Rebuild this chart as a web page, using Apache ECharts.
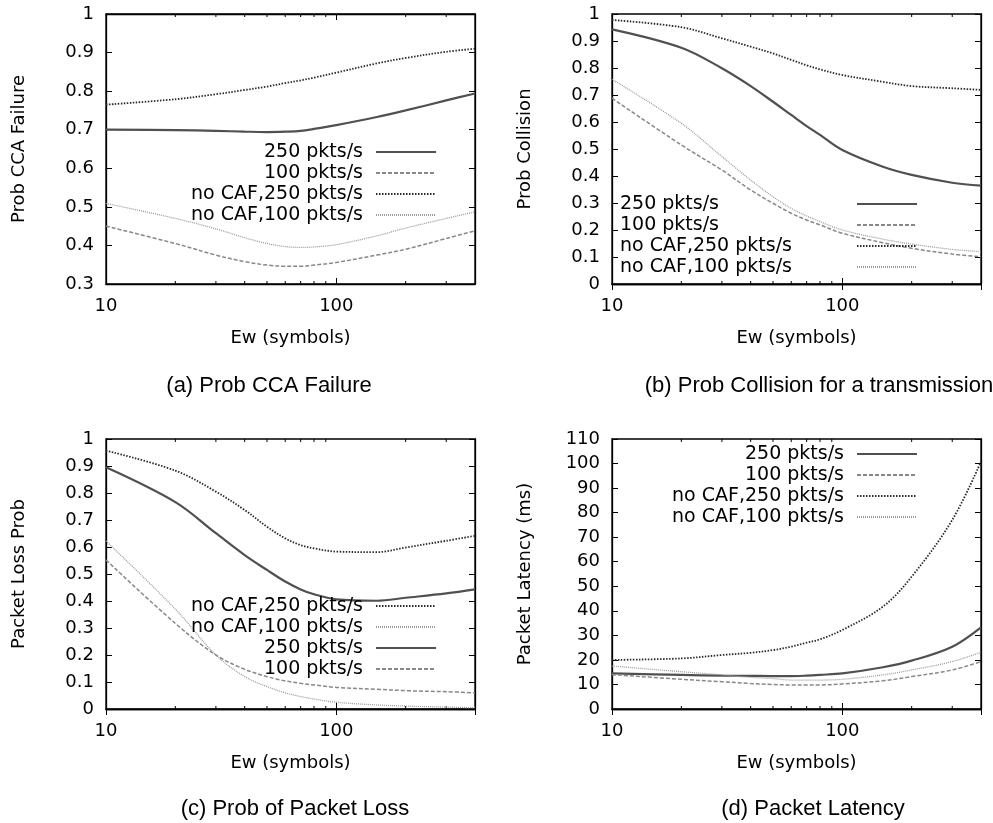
<!DOCTYPE html>
<html>
<head>
<meta charset="utf-8">
<script src="https://cdn.jsdelivr.net/npm/echarts@6/dist/echarts.min.js"></script>
<style>html,body{margin:0;background:#fff}#main{width:993px;height:823px}</style>
</head>
<body>
<div id="main"></div>
<script>
// Ew (symbols) sample points
const ew = [10, 20, 30, 40, 50, 60, 70, 80, 100, 150, 200, 300, 400];
const minorTicks = [20, 30, 40, 50, 60, 70, 80, 90, 200, 300];
const names = ['250 pkts/s', '100 pkts/s', 'no CAF,250 pkts/s', 'no CAF,100 pkts/s'];

// (a) Prob CCA Failure
const cca250 = [0.700, 0.699, 0.697, 0.695, 0.694, 0.695, 0.697, 0.702, 0.712, 0.733, 0.750, 0.776, 0.794];
const cca100 = [0.450, 0.405, 0.375, 0.358, 0.349, 0.346, 0.346, 0.349, 0.356, 0.375, 0.390, 0.418, 0.438];
const ccaNo250 = [0.765, 0.779, 0.792, 0.803, 0.812, 0.821, 0.828, 0.835, 0.848, 0.872, 0.886, 0.902, 0.910];
const ccaNo100 = [0.509, 0.470, 0.443, 0.420, 0.405, 0.397, 0.395, 0.396, 0.402, 0.425, 0.445, 0.470, 0.487];

// (b) Prob Collision
const col250 = [0.943, 0.875, 0.799, 0.733, 0.675, 0.626, 0.585, 0.552, 0.496, 0.434, 0.404, 0.375, 0.364];
const col100 = [0.688, 0.515, 0.422, 0.348, 0.299, 0.262, 0.237, 0.219, 0.188, 0.153, 0.132, 0.111, 0.101];
const colNo250 = [0.978, 0.951, 0.910, 0.879, 0.854, 0.830, 0.810, 0.795, 0.774, 0.749, 0.733, 0.725, 0.719];
const colNo100 = [0.758, 0.595, 0.472, 0.385, 0.323, 0.280, 0.252, 0.231, 0.200, 0.166, 0.148, 0.128, 0.120];

// (c) Packet Loss Prob
const loss250 = [0.895, 0.766, 0.651, 0.570, 0.515, 0.472, 0.443, 0.425, 0.406, 0.401, 0.412, 0.428, 0.443];
const loss100 = [0.552, 0.317, 0.200, 0.147, 0.120, 0.104, 0.095, 0.089, 0.080, 0.073, 0.068, 0.064, 0.060];
const lossNo250 = [0.957, 0.883, 0.805, 0.737, 0.675, 0.632, 0.607, 0.595, 0.583, 0.581, 0.598, 0.623, 0.641];
const lossNo100 = [0.622, 0.370, 0.200, 0.120, 0.083, 0.060, 0.046, 0.037, 0.025, 0.015, 0.011, 0.007, 0.005];

// (d) Packet Latency (ms)
const lat250 = [14.5, 13.9, 13.6, 13.5, 13.4, 13.4, 13.6, 13.9, 14.5, 17.0, 19.7, 25.4, 33.3];
const lat100 = [14.0, 12.1, 11.1, 10.4, 10.0, 9.8, 9.8, 9.8, 10.2, 11.5, 13.2, 15.9, 19.3];
const latNo250 = [20.0, 20.6, 22.0, 22.9, 24.0, 25.4, 27.0, 28.4, 32.2, 41.7, 53.9, 77.0, 100.8];
const latNo100 = [17.5, 15.2, 13.9, 12.9, 12.4, 11.8, 11.8, 11.8, 12.1, 13.9, 15.9, 19.3, 23.1];

const font = 'DejaVu Sans';
const capFont = 'Liberation Sans';
const lineStyles = [
  {color: '#505050', width: 2.2, type: 'solid'},
  {color: '#888888', width: 1.5, type: [4, 2]},
  {color: '#2a2a2a', width: 1.8, type: [1.5, 1.5]},
  {color: '#9c9c9c', width: 1.3, type: [1, 1]}
];

const panels = [
  {left: 106, top: 14, yMin: 0.3, yMax: 1, yInt: 0.1, yName: 'Prob CCA Failure', caption: '(a) Prob CCA Failure', capX: 264, capY: 370,
   data: [cca250, cca100, ccaNo250, ccaNo100], order: names, legendRight: 556, legendTop: 142, leftText: false},
  {left: 612, top: 14, yMin: 0, yMax: 1, yInt: 0.1, yName: 'Prob Collision', caption: '(b) Prob Collision for a transmission', capX: 814, capY: 370,
   data: [col250, col100, colNo250, colNo100], order: names, legendRight: 75, legendTop: 194, leftText: true},
  {left: 106, top: 439, yMin: 0, yMax: 1, yInt: 0.1, yName: 'Packet Loss Prob', caption: '(c) Prob of Packet Loss', capX: 290, capY: 793,
   data: [loss250, loss100, lossNo250, lossNo100], order: [names[2], names[3], names[0], names[1]], legendRight: 556, legendTop: 596, leftText: false},
  {left: 612, top: 439, yMin: 0, yMax: 110, yInt: 10, yName: 'Packet Latency (ms)', caption: '(d) Packet Latency', capX: 808, capY: 793,
   data: [lat250, lat100, latNo250, latNo100], order: names, legendRight: 75, legendTop: 444, leftText: false}
];

const grid = [], xAxis = [], yAxis = [], series = [], legend = [], title = [];
const axisTxt = {fontFamily: font, fontSize: 18, color: '#000'};

panels.forEach(function (p, i) {
  grid.push({left: p.left, top: p.top, width: 369, height: 270, show: true, borderColor: '#000', borderWidth: 1.3, backgroundColor: 'transparent'});
  const xBase = {gridIndex: i, type: 'log', logBase: 10, min: 10, max: 400,
    axisLine: {show: true, lineStyle: {color: '#000', width: 1.3}},
    axisTick: {inside: true, length: 6, lineStyle: {color: '#000'}},
    splitLine: {show: false}};
  xAxis.push(Object.assign({}, xBase, {position: 'bottom',
    name: 'Ew (symbols)', nameLocation: 'middle', nameGap: 45, nameTextStyle: axisTxt,
    axisLabel: Object.assign({margin: 13, showMaxLabel: false, formatter: function (v) {
      const r = Math.round(v); return (r === 10 || r === 100) ? String(r) : '';
    }}, axisTxt)}));
  xAxis.push(Object.assign({}, xBase, {position: 'top', axisLabel: {show: false}}));
  const yBase = {gridIndex: i, type: 'value', min: p.yMin, max: p.yMax, interval: p.yInt,
    axisLine: {show: true, lineStyle: {color: '#000', width: 1.3}},
    axisTick: {inside: true, length: 6, lineStyle: {color: '#000'}},
    splitLine: {show: false}};
  yAxis.push(Object.assign({}, yBase, {position: 'left',
    name: p.yName, nameLocation: 'middle', nameRotate: 90, nameGap: 78, nameTextStyle: axisTxt,
    axisLabel: Object.assign({margin: 12}, axisTxt)}));
  yAxis.push(Object.assign({}, yBase, {position: 'right', axisLabel: {show: false}}));

  p.data.forEach(function (vals, k) {
    series.push({
      name: names[k], type: 'line', xAxisIndex: 2 * i, yAxisIndex: 2 * i,
      data: ew.map(function (x, j) { return [x, vals[j]]; }),
      symbol: 'none', smooth: 0.35, lineStyle: lineStyles[k], itemStyle: {color: lineStyles[k].color},
      animation: false, z: 3
    });
  });

  // minor log ticks (bottom and top)
  series.push({
    type: 'custom', xAxisIndex: 2 * i, yAxisIndex: 2 * i, silent: true, animation: false,
    data: minorTicks.map(function (v) { return [v, p.yMin]; }),
    renderItem: function (params, api) {
      const x = api.coord([api.value(0), api.value(1)])[0];
      const cs = params.coordSys;
      return {type: 'group', children: [
        {type: 'line', shape: {x1: x, y1: cs.y + cs.height, x2: x, y2: cs.y + cs.height - 3}, style: {stroke: '#000', lineWidth: 1}},
        {type: 'line', shape: {x1: x, y1: cs.y, x2: x, y2: cs.y + 3}, style: {stroke: '#000', lineWidth: 1}}
      ]};
    }
  });

  const lg = {
    orient: 'vertical', right: p.legendRight, top: p.legendTop, align: 'right',
    data: p.order.map(function (n) { return {name: n}; }),
    itemWidth: 60, itemHeight: 14, itemGap: 1, padding: 0, selectedMode: false,
    itemStyle: {color: 'rgba(0,0,0,0)', borderWidth: 0, opacity: 0},
    textStyle: {fontFamily: font, fontSize: 19, color: '#000', lineHeight: 20, padding: [0, 8, 0, 0]}
  };
  if (p.leftText) {
    lg.formatter = function (n) { return '{t|' + n + '}'; };
    lg.textStyle.rich = {t: {width: 224, align: 'left', fontFamily: font, fontSize: 19, lineHeight: 20, color: '#000'}};
  }
  legend.push(lg);

  title.push({text: p.caption, left: p.capX, top: p.capY, textAlign: 'center',
    textStyle: {fontFamily: capFont, fontSize: 22, fontWeight: 'normal', color: '#000'}});
});

const chart = echarts.init(document.getElementById('main'), null, {renderer: 'canvas'});
chart.setOption({animation: false, backgroundColor: '#fff', title: title, grid: grid, xAxis: xAxis, yAxis: yAxis, legend: legend, series: series});
</script>
</body>
</html>
